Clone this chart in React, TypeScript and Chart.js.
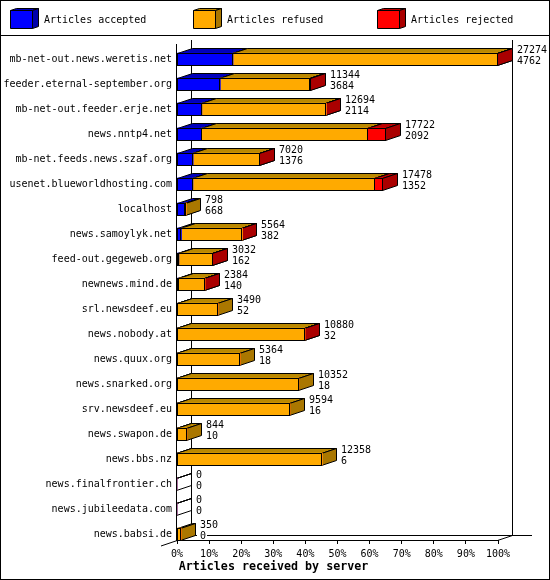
import React, { useEffect, useRef } from 'react';
import { Chart, registerables } from 'chart.js';

Chart.register(...registerables);

const hosts = [
  'mb-net-out.news.weretis.net', 'feeder.eternal-september.org', 'mb-net-out.feeder.erje.net',
  'news.nntp4.net', 'mb-net.feeds.news.szaf.org', 'usenet.blueworldhosting.com', 'localhost',
  'news.samoylyk.net', 'feed-out.gegeweb.org', 'newnews.mind.de', 'srl.newsdeef.eu',
  'news.nobody.at', 'news.quux.org', 'news.snarked.org', 'srv.newsdeef.eu', 'news.swapon.de',
  'news.bbs.nz', 'news.finalfrontier.ch', 'news.jubileedata.com', 'news.babsi.de',
];

// top and bottom number printed next to each bar
const offered = [27274, 11344, 12694, 17722, 7020, 17478, 798, 5564, 3032, 2384, 3490, 10880, 5364, 10352, 9594, 844, 12358, 0, 0, 350];
const accepted = [4762, 3684, 2114, 2092, 1376, 1352, 668, 382, 162, 140, 52, 32, 18, 18, 16, 10, 6, 0, 0, 0];
const refused = [22500, 7652, 10570, 14100, 5639, 15446, 130, 5178, 2867, 2241, 3438, 10844, 5346, 10334, 9578, 834, 12352, 0, 0, 350];
const rejected = [12, 8, 10, 1530, 5, 680, 0, 4, 3, 3, 0, 4, 0, 0, 0, 0, 0, 0, 0, 0];

const xTickLabels = ['0%', '10%', '20%', '30%', '40%', '50%', '60%', '70%', '80%', '90%', '100%'];
const seriesNames = ['Articles accepted', 'Articles refused', 'Articles rejected'];
const frontColors = ['#0000ff', '#ffaa00', '#ff0000'];
const topColors = ['#0000bb', '#bb8800', '#bb0000'];
const sideColors = ['#0000aa', '#aa7700', '#aa0000'];
const legendX = [10, 193, 377];
const axisTitle = 'Articles received by server';

const maxValue = 27274;
const DX = 15;
const DY = -5;
const FONT = '10px "DejaVu Sans Mono"';
const BOLD_FONT = 'bold 11.67px "DejaVu Sans Mono"';

const poly = (ctx: CanvasRenderingContext2D, pts: number[][], fill: string) => {
  ctx.beginPath();
  pts.forEach((p, i) => (i ? ctx.lineTo(p[0], p[1]) : ctx.moveTo(p[0], p[1])));
  ctx.closePath();
  ctx.fillStyle = fill;
  ctx.fill();
  ctx.stroke();
};

const line = (ctx: CanvasRenderingContext2D, x1: number, y1: number, x2: number, y2: number) => {
  ctx.beginPath();
  ctx.moveTo(x1, y1);
  ctx.lineTo(x2, y2);
  ctx.stroke();
};

// Box edges of one stacked segment, snapped to the pixel grid
const segmentBox = (chart: Chart, ds: number, row: number) => {
  const el: any = chart.getDatasetMeta(ds).data[row];
  return {
    left: Math.round(el.base) - 0.5,
    right: Math.round(el.x) - 0.5,
    top: Math.round(el.y - el.height / 2) + 0.5,
    bottom: Math.round(el.y + el.height / 2) + 0.5,
  };
};

const box3d = {
  id: 'box3d',
  // walls and the top and side faces go under the front faces
  beforeDatasetsDraw(chart: Chart) {
    const ctx = chart.ctx;
    const { left, right, top, bottom } = chart.chartArea;
    ctx.save();
    ctx.strokeStyle = '#000';
    ctx.lineWidth = 1;
    line(ctx, left + DX - 0.5, top - 4, left + DX - 0.5, bottom + DY);
    line(ctx, right + DX - 0.5, top - 4, right + DX - 0.5, bottom + DY);
    line(ctx, left + DX - 0.5, bottom + DY + 0.5, right + DX + 19, bottom + DY + 0.5);
    line(ctx, left - 16, bottom + 6, left + DX, bottom + DY + 0.5);
    line(ctx, right - 0.5, bottom + 0.5, right + DX - 0.5, bottom + DY + 0.5);

    hosts.forEach((_, row) => {
      [accepted, refused, rejected].forEach((values, ds) => {
        // a row with nothing in it still shows the edges of its empty box
        const empty = offered[row] === 0 && ds === 0;
        if (values[row] === 0 && !empty) return;
        const b = segmentBox(chart, ds, row);
        poly(ctx, [[b.left, b.top], [b.left + DX, b.top + DY], [b.right + DX, b.top + DY], [b.right, b.top]], empty ? 'transparent' : topColors[ds]);
        poly(ctx, [[b.right, b.top], [b.right + DX, b.top + DY], [b.right + DX, b.bottom + DY], [b.right, b.bottom]], empty ? 'transparent' : sideColors[ds]);
      });
    });

    // numbers next to each bar, on a white patch that breaks the wall lines
    ctx.font = FONT;
    ctx.textBaseline = 'middle';
    ctx.textAlign = 'left';
    hosts.forEach((_, row) => {
      const end = Math.round(chart.scales.x.getPixelForValue(offered[row]));
      const mid = chart.scales.y.getPixelForValue(row);
      [[offered[row], -9], [accepted[row], 2]].forEach(([v, off]) => {
        const text = String(v);
        const w = ctx.measureText(text).width;
        ctx.fillStyle = '#fff';
        ctx.fillRect(end + 19 - 3, mid + off - 5, w + 4, 9);
        ctx.fillStyle = '#000';
        ctx.fillText(text, end + 19, mid + off);
      });
    });
    ctx.restore();
  },
  afterDatasetsDraw(chart: Chart) {
    const ctx = chart.ctx;
    const { left, top, bottom } = chart.chartArea;
    ctx.save();
    ctx.strokeStyle = '#000';
    ctx.lineWidth = 1;
    hosts.forEach((_, row) => {
      [accepted, refused, rejected].forEach((values, ds) => {
        if (values[row] === 0) return;
        const b = segmentBox(chart, ds, row);
        ctx.strokeRect(b.left, b.top, b.right - b.left, b.bottom - b.top);
      });
    });
    line(ctx, left - 0.5, top, left - 0.5, bottom + 1);
    ctx.restore();
  },
  // frame, legend and axis title
  afterDraw(chart: Chart) {
    const ctx = chart.ctx;
    ctx.save();
    ctx.strokeStyle = '#000';
    ctx.lineWidth = 1;
    ctx.strokeRect(0.5, 0.5, 549, 579);
    line(ctx, 0, 35.5, 550, 35.5);
    seriesNames.forEach((name, i) => {
      const x = legendX[i] + 0.5;
      poly(ctx, [[x, 10.5], [x + 6, 8.5], [x + 28, 8.5], [x + 22, 10.5]], topColors[i]);
      poly(ctx, [[x + 22, 10.5], [x + 28, 8.5], [x + 28, 26.5], [x + 22, 28.5]], sideColors[i]);
      poly(ctx, [[x, 10.5], [x + 22, 10.5], [x + 22, 28.5], [x, 28.5]], frontColors[i]);
      ctx.fillStyle = '#000';
      ctx.font = FONT;
      ctx.textBaseline = 'middle';
      ctx.textAlign = 'left';
      ctx.fillText(name, legendX[i] + 34, 20);
    });
    ctx.font = BOLD_FONT;
    ctx.textAlign = 'center';
    ctx.fillStyle = '#000';
    ctx.fillText(axisTitle, 273.5, 567);
    ctx.restore();
  },
};

const App: React.FC = () => {
  const canvasRef = useRef<HTMLCanvasElement | null>(null);

  useEffect(() => {
    if (!canvasRef.current) return;

    const toPoints = (values: number[]) => values.map((v, i) => ({ x: v, y: i }));

    const chart = new Chart(canvasRef.current, {
      type: 'bar',
      data: {
        datasets: [accepted, refused, rejected].map((values, i) => ({
          label: seriesNames[i],
          data: toPoints(values),
          backgroundColor: frontColors[i],
          borderWidth: 0,
          barThickness: 12,
        })),
      },
      options: {
        indexAxis: 'y',
        responsive: false,
        devicePixelRatio: 1,
        animation: false,
        layout: { padding: { top: 44, right: 52, left: 0, bottom: 0 } },
        plugins: { legend: { display: false }, tooltip: { enabled: false } },
        scales: {
          x: {
            type: 'linear',
            stacked: true,
            min: 0,
            max: maxValue,
            afterFit: (scale: any) => { scale.height = 40; },
            afterBuildTicks: (scale: any) => {
              scale.ticks = xTickLabels.map((_, i) => ({ value: (i * maxValue) / 10 }));
            },
            grid: { drawOnChartArea: false, tickLength: 4, tickColor: '#000', tickWidth: 1 },
            border: { display: true, color: '#000', width: 1 },
            ticks: {
              autoSkip: false,
              maxRotation: 0,
              padding: 4,
              color: '#000',
              font: { family: 'DejaVu Sans Mono', size: 10 },
              callback: (_v: any, i: number) => xTickLabels[i],
            },
          },
          y: {
            type: 'linear',
            offset: false,
            stacked: true,
            reverse: true,
            min: -0.6,
            max: 19.24,
            afterFit: (scale: any) => { scale.width = 177; },
            afterBuildTicks: (scale: any) => {
              scale.ticks = hosts.map((_, i) => ({ value: i }));
            },
            grid: { display: false, drawTicks: false },
            border: { display: false },
            ticks: {
              autoSkip: false,
              padding: 5,
              color: '#000',
              font: { family: 'DejaVu Sans Mono', size: 10 },
              callback: (_v: any, i: number) => hosts[i],
            },
          },
        },
      },
      plugins: [box3d],
    } as any);

    return () => chart.destroy();
  }, []);

  return (
    <div style={{ position: 'absolute', left: 0, top: 0, width: 550, height: 580, background: '#fff' }}>
      <canvas ref={canvasRef} width={550} height={580} style={{ display: 'block' }} />
    </div>
  );
};

export default App;
